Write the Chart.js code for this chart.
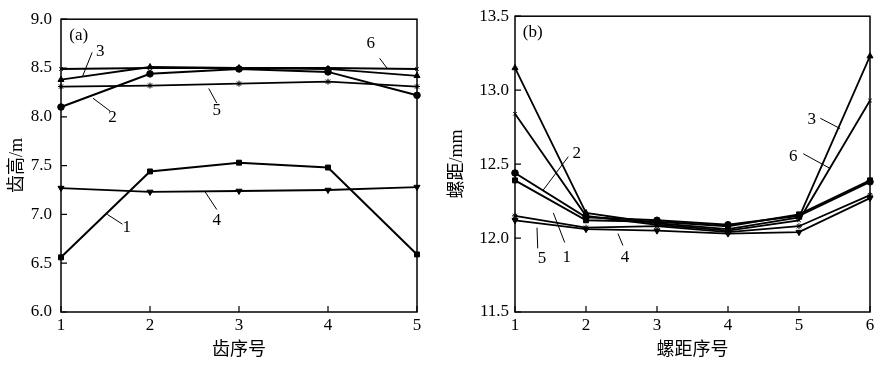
<!DOCTYPE html>
<html><head><meta charset="utf-8">
<script src="https://cdn.jsdelivr.net/npm/chart.js@4/dist/chart.umd.min.js"></script>
<style>
html,body{margin:0;padding:0;background:#fff;}
#wrap{display:flex;width:892px;height:368px;}
.c{position:relative;width:446px;height:368px;}
</style></head><body>
<div id="wrap"><div class="c"><canvas id="ca"></canvas></div><div class="c"><canvas id="cb"></canvas></div></div>
<script>
// ---- data: (a) tooth height ----
const toothIdx = [1, 2, 3, 4, 5];
const toothH1 = [6.56, 7.44, 7.53, 7.48, 6.59];
const toothH2 = [8.10, 8.44, 8.49, 8.46, 8.22];
const toothH3 = [8.38, 8.51, 8.50, 8.49, 8.42];
const toothH4 = [7.27, 7.23, 7.24, 7.25, 7.28];
const toothH5 = [8.31, 8.32, 8.34, 8.36, 8.31];
const toothH6 = [8.49, 8.50, 8.50, 8.50, 8.49];
const toothYTicks = [6.0, 6.5, 7.0, 7.5, 8.0, 8.5, 9.0];

// ---- data: (b) pitch ----
const pitchIdx = [1, 2, 3, 4, 5, 6];
const pitch1 = [12.39, 12.12, 12.11, 12.08, 12.16, 12.39];
const pitch2 = [12.44, 12.14, 12.12, 12.09, 12.15, 12.38];
const pitch3 = [13.15, 12.17, 12.10, 12.06, 12.14, 13.23];
const pitch4 = [12.12, 12.06, 12.05, 12.03, 12.04, 12.27];
const pitch5 = [12.15, 12.07, 12.08, 12.04, 12.08, 12.29];
const pitch6 = [12.84, 12.15, 12.09, 12.05, 12.12, 12.93];
const pitchYTicks = [11.5, 12.0, 12.5, 13.0, 13.5];

const seriesNames = ['1', '2', '3', '4', '5', '6'];

// curve labels with leader lines, in data units: [text, tx, ty, x1, y1, x2, y2]
const notesA = [
  ['3', 1.44, 8.67, 1.35, 8.66, 1.24, 8.41],
  ['6', 4.48, 8.75, 4.58, 8.60, 4.67, 8.49],
  ['2', 1.58, 7.99, 1.36, 8.19, 1.55, 8.06],
  ['5', 2.75, 8.06, 2.66, 8.29, 2.75, 8.14],
  ['1', 1.74, 6.87, 1.52, 7.00, 1.69, 6.90],
  ['4', 2.75, 6.94, 2.62, 7.23, 2.75, 7.05]
];
const notesB = [
  ['3', 5.18, 12.80, 5.30, 12.81, 5.58, 12.74],
  ['6', 4.92, 12.55, 5.06, 12.57, 5.44, 12.47],
  ['2', 1.87, 12.57, 1.75, 12.55, 1.39, 12.32],
  ['1', 1.73, 11.87, 1.70, 11.97, 1.54, 12.17],
  ['5', 1.38, 11.86, 1.32, 11.93, 1.31, 12.07],
  ['4', 2.55, 11.87, 2.52, 11.95, 2.45, 12.03]
];
const panelA = ['(a)', 1.20, 8.83];
const panelB = ['(b)', 1.25, 13.39];

const SERIF = '"Liberation Serif","Times New Roman",serif';
const CJK = '"Liberation Serif","Noto Sans CJK SC",sans-serif';

const markers = [
  {pointStyle: 'rect', pointRadius: 3.5},
  {pointStyle: 'circle', pointRadius: 3.3},
  {pointStyle: 'triangle', pointRadius: 3.5},
  {pointStyle: 'triangle', pointRadius: 3.5, pointRotation: 180},
  {pointStyle: 'star', pointRadius: 3},
  {pointStyle: 'crossRot', pointRadius: 2.5}
];

function makeSets(xs, arrs) {
  return arrs.map((ys, i) => Object.assign({
    label: seriesNames[i],
    data: xs.map((x, j) => ({x: x, y: ys[j]})),
    borderColor: '#000',
    backgroundColor: '#000',
    pointBorderColor: '#000',
    pointBackgroundColor: '#000',
    borderWidth: (i === 0 || i === 1) ? 2 : 1.8,
    pointBorderWidth: 1,
    tension: 0,
    clip: false
  }, markers[i]));
}

const framePlugin = {
  id: 'frame',
  afterDraw(chart, args, opts) {
    const ctx = chart.ctx;
    const a = chart.chartArea;
    const xs = chart.scales.x, ys = chart.scales.y;
    ctx.save();
    ctx.strokeStyle = '#000';
    ctx.lineWidth = 1.5;
    ctx.strokeRect(a.left, a.top, a.right - a.left, a.bottom - a.top);
    ctx.lineWidth = 1.2;
    ctx.beginPath();
    xs.ticks.forEach(t => {
      const px = xs.getPixelForValue(t.value);
      ctx.moveTo(px, a.bottom); ctx.lineTo(px, a.bottom - 6);
    });
    ys.ticks.forEach(t => {
      const py = ys.getPixelForValue(t.value);
      ctx.moveTo(a.left, py); ctx.lineTo(a.left + 6, py);
    });
    ctx.stroke();
    // notes
    ctx.fillStyle = '#000';
    ctx.font = '17px ' + SERIF;
    ctx.textAlign = 'center';
    ctx.textBaseline = 'middle';
    ctx.lineWidth = 1;
    opts.notes.forEach(n => {
      ctx.fillText(n[0], xs.getPixelForValue(n[1]), ys.getPixelForValue(n[2]));
      ctx.beginPath();
      ctx.moveTo(xs.getPixelForValue(n[3]), ys.getPixelForValue(n[4]));
      ctx.lineTo(xs.getPixelForValue(n[5]), ys.getPixelForValue(n[6]));
      ctx.stroke();
    });
    const p = opts.panel;
    ctx.fillText(p[0], xs.getPixelForValue(p[1]), ys.getPixelForValue(p[2]));
    ctx.restore();
  }
};

function makeChart(id, xs, arrs, yTicks, xTitle, yTitle, notes, panel, yAxisW, padRight, yTitlePad, yLabPad) {
  const xMin = xs[0], xMax = xs[xs.length - 1];
  return new Chart(document.getElementById(id), {
    type: 'line',
    data: {datasets: makeSets(xs, arrs)},
    options: {
      responsive: true,
      maintainAspectRatio: false,
      animation: false,
      devicePixelRatio: 1,
      layout: {padding: {left: 0, right: padRight, top: 15, bottom: 0}},
      plugins: {legend: {display: false}, tooltip: {enabled: false},
                frame: {notes: notes, panel: panel}},
      scales: {
        x: {
          type: 'linear', min: xMin, max: xMax,
          afterBuildTicks: s => { s.ticks = xs.map(v => ({value: v})); },
          ticks: {font: {family: SERIF, size: 17}, color: '#000', padding: 3,
                  callback: v => String(v)},
          grid: {display: false, drawTicks: false},
          border: {display: false},
          title: {display: true, text: xTitle, color: '#000',
                  font: {family: CJK, size: 18}, padding: {top: 0, bottom: 7}},
          afterFit: s => { s.height = 56; }
        },
        y: {
          type: 'linear', min: yTicks[0], max: yTicks[yTicks.length - 1],
          afterBuildTicks: s => { s.ticks = yTicks.map(v => ({value: v})); },
          ticks: {font: {family: SERIF, size: 17}, color: '#000', padding: yLabPad,
                  callback: v => Number(v).toFixed(1)},
          grid: {display: false, drawTicks: false},
          border: {display: false},
          title: {display: true, text: yTitle, color: '#000',
                  font: {family: CJK, size: 18}, padding: {top: yTitlePad, bottom: 0}},
          afterFit: s => { s.width = yAxisW; }
        }
      }
    },
    plugins: [framePlugin]
  });
}

makeChart('ca', toothIdx, [toothH1, toothH2, toothH3, toothH4, toothH5, toothH6],
  toothYTicks, '齿序号', '齿高/m', notesA, panelA, 61, 29, 6, 9);
makeChart('cb', pitchIdx, [pitch1, pitch2, pitch3, pitch4, pitch5, pitch6],
  pitchYTicks, '螺距序号', '螺距/mm', notesB, panelB, 69, 22, 0, 6);
</script>
</body></html>
